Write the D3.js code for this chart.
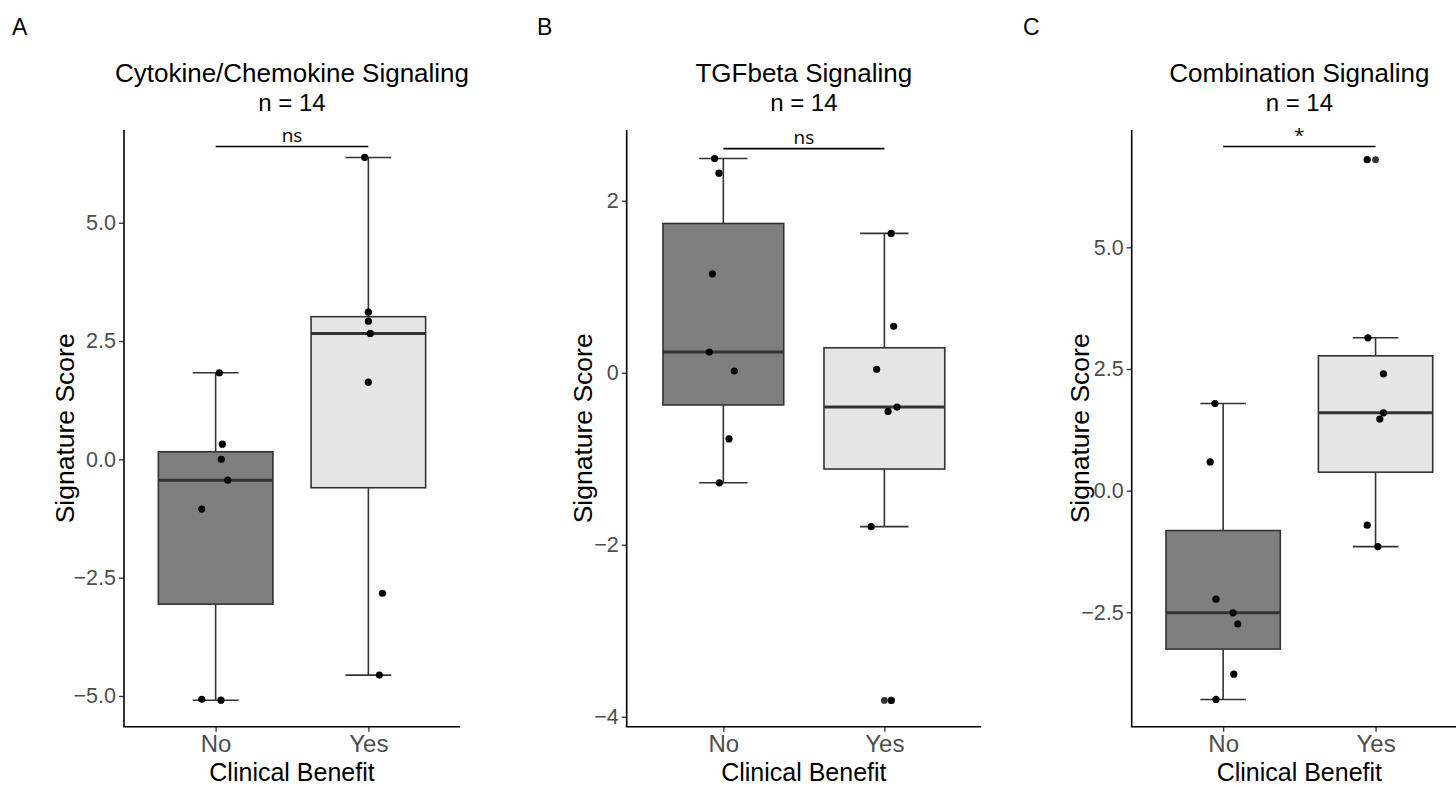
<!DOCTYPE html>
<html>
<head>
<meta charset="utf-8">
<script src="https://cdn.jsdelivr.net/npm/d3@7"></script>
<style>
  body { margin: 0; background: #fff; }
  text { font-family: "Liberation Sans", Arial, sans-serif; }
</style>
</head>
<body>
<svg class="chart" width="1456" height="786"></svg>
<script>
var groups = ["No", "Yes"];
var panelLetters = ["A", "B", "C"];
var panelTitles = ["Cytokine/Chemokine Signaling", "TGFbeta Signaling", "Combination Signaling"];
var sampleSize = 14;
var sigLabels = ["ns", "ns", "*"];

// signature scores, one array per group
var cytoNo  = [1.83, 0.32, 0.0, -0.44, -1.05, -5.07, -5.09];
var cytoYes = [6.38, 3.11, 2.92, 2.66, 1.63, -2.83, -4.56];
var tgfNo   = [2.49, 2.32, 1.15, 0.24, 0.02, -0.77, -1.28];
var tgfYes  = [1.62, 0.54, 0.04, -0.40, -0.45, -1.79, -3.81];
var combNo  = [1.79, 0.59, -2.23, -2.51, -2.74, -3.77, -4.29];
var combYes = [6.80, 3.14, 2.40, 1.60, 1.47, -0.71, -1.15];

// horizontal jitter of each dot (fraction of the band step), same order as above
var cytoNoJit  = [0.024, 0.044, 0.037, 0.079, -0.091, -0.091, 0.035];
var cytoYesJit = [-0.024, 0, 0, 0.013, 0, 0.092, 0.072];
var tgfNoJit   = [-0.054, -0.027, -0.068, -0.087, 0.068, 0.035, -0.025];
var tgfYesJit  = [0.042, 0.058, -0.048, 0.079, 0.023, -0.082, 0.043];
var combNoJit  = [-0.054, -0.085, -0.047, 0.065, 0.096, 0.07, -0.047];
var combYesJit = [-0.055, -0.05, 0.052, 0.052, 0.028, -0.055, 0.015];

// y axis ticks / ranges per panel
var yTicksA = [-5, -2.5, 0, 2.5, 5];
var yTicksB = [-4, -2, 0, 2];
var yTicksC = [-2.5, 0, 2.5, 5];
var yDomainA = [-5.65, 6.96];
var yDomainB = [-4.116, 2.822];
var yDomainC = [-4.85, 7.41];
var bracketValues = [6.61, 2.605, 7.07];

var svg = d3.select(".chart");

var panels = [
  {no: cytoNo, yes: cytoYes, noJit: cytoNoJit, yesJit: cytoYesJit, ticks: yTicksA, domain: yDomainA,
   fmt: d3.format(".1f"), left: 124, right: 460, letterX: 12, yTitleX: 65},
  {no: tgfNo, yes: tgfYes, noJit: tgfNoJit, yesJit: tgfYesJit, ticks: yTicksB, domain: yDomainB,
   fmt: d3.format("d"), left: 626.7, right: 981, letterX: 537, yTitleX: 583},
  {no: combNo, yes: combYes, noJit: combNoJit, yesJit: combYesJit, ticks: yTicksC, domain: yDomainC,
   fmt: d3.format(".1f"), left: 1131.7, right: 1467, letterX: 1023, yTitleX: 1080}
];

var plotTop = 130, plotBottom = 726.7;
var fills = {No: "#7f7f7f", Yes: "#e5e5e5"};

panels.forEach(function(p, i) {
  var g = svg.append("g");

  var x = d3.scalePoint().domain(groups).range([p.left, p.right]).padding(0.6);
  var y = d3.scaleLinear().domain(p.domain).range([plotBottom, plotTop]);
  var step = x.step();
  var boxW = 0.75 * step, capW = 0.3 * step;

  var data = [
    {key: "No", values: p.no, jit: p.noJit},
    {key: "Yes", values: p.yes, jit: p.yesJit}
  ];

  data.forEach(function(d) {
    var s = d.values.slice().sort(d3.ascending);
    var q1 = d3.quantile(s, 0.25), med = d3.quantile(s, 0.5), q3 = d3.quantile(s, 0.75);
    var iqr = q3 - q1;
    var lo = d3.min(s.filter(function(v) { return v >= q1 - 1.5 * iqr; }));
    var hi = d3.max(s.filter(function(v) { return v <= q3 + 1.5 * iqr; }));
    var outliers = s.filter(function(v) { return v < lo || v > hi; });
    var cx = x(d.key);

    // whiskers + caps
    g.append("line").attr("x1", cx).attr("x2", cx).attr("y1", y(hi)).attr("y2", y(q3))
      .attr("stroke", "#333").attr("stroke-width", 1.6);
    g.append("line").attr("x1", cx).attr("x2", cx).attr("y1", y(q1)).attr("y2", y(lo))
      .attr("stroke", "#333").attr("stroke-width", 1.6);
    [lo, hi].forEach(function(v) {
      g.append("line").attr("x1", cx - capW / 2).attr("x2", cx + capW / 2)
        .attr("y1", y(v)).attr("y2", y(v)).attr("stroke", "#333").attr("stroke-width", 1.6);
    });

    g.append("rect")
      .attr("x", cx - boxW / 2).attr("y", y(q3))
      .attr("width", boxW).attr("height", y(q1) - y(q3))
      .attr("fill", fills[d.key]).attr("stroke", "#333").attr("stroke-width", 1.6);
    g.append("line").attr("x1", cx - boxW / 2).attr("x2", cx + boxW / 2)
      .attr("y1", y(med)).attr("y2", y(med)).attr("stroke", "#333").attr("stroke-width", 3);

    // boxplot outliers at the centre
    g.selectAll(null).data(outliers).enter().append("circle")
      .attr("cx", cx).attr("cy", function(v) { return y(v); })
      .attr("r", 3.4).attr("fill", "#333");

    // jittered points
    g.selectAll(null).data(d.values).enter().append("circle")
      .attr("cx", function(v, j) { return cx + d.jit[j] * step; })
      .attr("cy", function(v) { return y(v); })
      .attr("r", 3.6).attr("fill", "#000");
  });

  // axes
  var yAxis = g.append("g").attr("transform", "translate(" + p.left + ",0)")
    .call(d3.axisLeft(y).tickValues(p.ticks).tickFormat(p.fmt).tickSize(5).tickSizeOuter(0).tickPadding(3));
  yAxis.select(".domain").remove();
  yAxis.selectAll(".tick line").attr("stroke", "#333").attr("stroke-width", 1.3);
  yAxis.selectAll(".tick text").attr("fill", "#4d4d4d").style("font-size", "21.5px")
    .style("font-family", "Liberation Sans");
  g.append("line").attr("x1", p.left).attr("x2", p.left).attr("y1", plotTop).attr("y2", plotBottom)
    .attr("stroke", "#000").attr("stroke-width", 1.6);

  var xAxis = g.append("g").attr("transform", "translate(0," + plotBottom + ")")
    .call(d3.axisBottom(x).tickSize(5).tickSizeOuter(0).tickPadding(3));
  xAxis.select(".domain").remove();
  xAxis.selectAll(".tick line").attr("stroke", "#333").attr("stroke-width", 1.3);
  xAxis.selectAll(".tick text").attr("fill", "#4d4d4d").style("font-size", "24px")
    .style("font-family", "Liberation Sans");
  g.append("line").attr("x1", p.left - 0.8).attr("x2", p.right).attr("y1", plotBottom).attr("y2", plotBottom)
    .attr("stroke", "#000").attr("stroke-width", 1.6);

  // significance bracket
  var by = y(bracketValues[i]);
  g.append("line").attr("x1", x("No")).attr("x2", x("Yes")).attr("y1", by).attr("y2", by)
    .attr("stroke", "#000").attr("stroke-width", 1.6);
  g.append("text").attr("x", (x("No") + x("Yes")) / 2).attr("y", by - 5)
    .attr("text-anchor", "middle").style("font-family", "Open Sans").style("font-size", "19px")
    .text(sigLabels[i]);

  // titles
  var mid = (p.left + p.right) / 2;
  g.append("text").attr("x", mid).attr("y", 82).attr("text-anchor", "middle")
    .style("font-size", "26px").text(panelTitles[i]);
  g.append("text").attr("x", mid).attr("y", 111).attr("text-anchor", "middle")
    .style("font-size", "24px").text("n = " + sampleSize);

  g.append("text").attr("x", mid).attr("y", 781).attr("text-anchor", "middle")
    .style("font-size", "25px").text("Clinical Benefit");
  g.append("text").attr("transform", "translate(" + p.yTitleX + "," + (plotTop + plotBottom) / 2 + ") rotate(-90)")
    .attr("text-anchor", "middle").attr("dy", "0.35em")
    .style("font-size", "26.5px").text("Signature Score");

  g.append("text").attr("x", p.letterX).attr("y", 35)
    .style("font-size", "23px").text(panelLetters[i]);
});
</script>
</body>
</html>
